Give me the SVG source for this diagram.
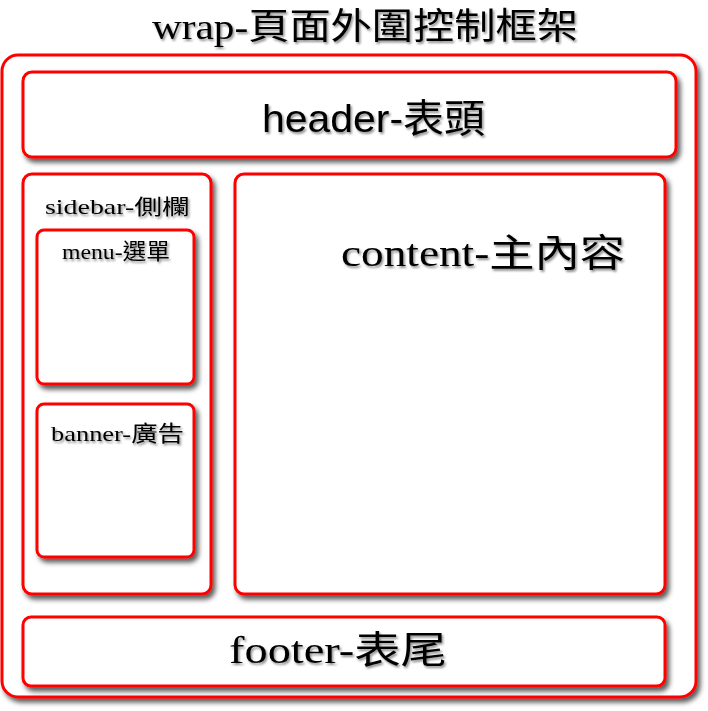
<svg xmlns="http://www.w3.org/2000/svg" width="708" height="711" viewBox="0 0 708 711">
<defs>
<filter id="sh" x="-10%" y="-10%" width="130%" height="130%">
<feDropShadow dx="3" dy="4" stdDeviation="2.5" flood-color="#000" flood-opacity="0.65"/>
</filter>
<filter id="tsh" x="-5%" y="-20%" width="115%" height="150%">
<feDropShadow dx="1.5" dy="2" stdDeviation="1.2" flood-color="#000" flood-opacity="0.45"/>
</filter>
</defs>
<style>
.box{fill:#fff;stroke:#ff0000;stroke-width:3}
.t{fill:#000;font-family:"Liberation Serif","Noto Sans CJK TC",serif;filter:url(#tsh)}
.s{font-family:"Liberation Sans","Noto Sans CJK TC",sans-serif}
</style>
<rect width="708" height="711" fill="#fff"/>
<text class="t" x="152" y="39" font-size="36" textLength="426" lengthAdjust="spacingAndGlyphs">wrap-頁面外圍控制框架</text>
<g id="wrap">
<rect class="box" x="2" y="55" width="694" height="642" rx="16" filter="url(#sh)"/>
</g>
<g id="header">
<rect class="box" x="23" y="72" width="653" height="85" rx="9" filter="url(#sh)"/>
<text class="t s" x="262" y="132" font-size="39" textLength="223" lengthAdjust="spacingAndGlyphs">header-表頭</text>
</g>
<g id="sidebar">
<rect class="box" x="23" y="174" width="188" height="420" rx="9" filter="url(#sh)"/>
<text class="t" x="45" y="214" font-size="21" textLength="145" lengthAdjust="spacingAndGlyphs">sidebar-側欄</text>
</g>
<g id="menu">
<rect class="box" x="37" y="230" width="157" height="154" rx="7" filter="url(#sh)"/>
<text class="t" x="62" y="259" font-size="22" textLength="108" lengthAdjust="spacingAndGlyphs">menu-選單</text>
</g>
<g id="banner">
<rect class="box" x="37" y="404" width="157" height="153" rx="7" filter="url(#sh)"/>
<text class="t" x="51" y="441" font-size="22" textLength="133" lengthAdjust="spacingAndGlyphs">banner-廣告</text>
</g>
<g id="content">
<rect class="box" x="235" y="174" width="430" height="420" rx="9" filter="url(#sh)"/>
<text class="t" x="341" y="266" font-size="38" textLength="284" lengthAdjust="spacingAndGlyphs">content-主內容</text>
</g>
<g id="footer">
<rect class="box" x="23" y="617" width="642" height="69" rx="8" filter="url(#sh)"/>
<text class="t" x="229" y="663" font-size="38" textLength="218" lengthAdjust="spacingAndGlyphs">footer-表尾</text>
</g>
<g id="connectors"/>
</svg>
